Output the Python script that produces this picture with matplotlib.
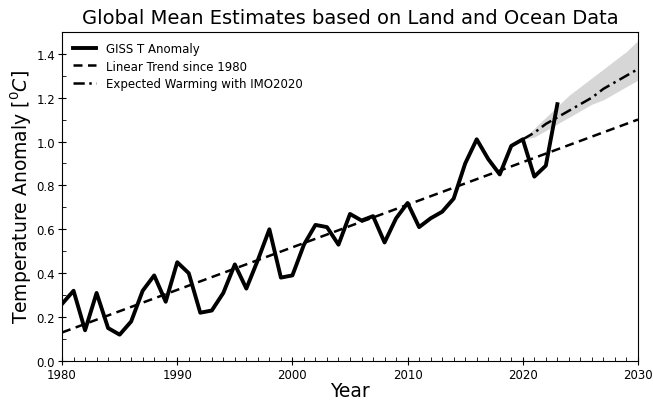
import matplotlib.pyplot as plt
from matplotlib.ticker import MultipleLocator

# GISS annual anomalies
years = list(range(1980, 2024))
giss = [0.26, 0.32, 0.14, 0.31, 0.15, 0.12, 0.18, 0.32, 0.39, 0.27,
        0.45, 0.40, 0.22, 0.23, 0.31, 0.44, 0.33, 0.46, 0.60, 0.38,
        0.39, 0.53, 0.62, 0.61, 0.53, 0.67, 0.64, 0.66, 0.54, 0.65,
        0.72, 0.61, 0.65, 0.68, 0.74, 0.90, 1.01, 0.92, 0.85, 0.98,
        1.01, 0.84, 0.89, 1.17]

# linear trend end points
trend_years = [1980, 2030]
trend_vals = [0.13, 1.10]

# IMO2020 projection and spread
proj_years = list(range(2020, 2031))
proj_mid = [1.01, 1.04, 1.08, 1.11, 1.14, 1.17, 1.20, 1.24, 1.27, 1.30, 1.33]
proj_lo = [1.01, 1.02, 1.05, 1.08, 1.11, 1.14, 1.17, 1.19, 1.22, 1.25, 1.28]
proj_hi = [1.01, 1.06, 1.11, 1.16, 1.21, 1.25, 1.29, 1.33, 1.37, 1.41, 1.46]

fig = plt.figure(figsize=(6.53, 4.02), dpi=100)
ax = fig.add_axes([0.095, 0.0995, 0.882, 0.819])

ax.fill_between(proj_years, proj_lo, proj_hi, color="#d6d6d6", linewidth=0)
ax.plot(years, giss, color="black", linewidth=2.8, label="GISS T Anomaly")
ax.plot(trend_years, trend_vals, color="black", linestyle=(0, (3.6, 2.2)),
        linewidth=1.8, label="Linear Trend since 1980")
ax.plot(proj_years, proj_mid, color="black", linestyle=(0, (4.5, 1.8, 1, 1.8)),
        linewidth=1.8, label="Expected Warming with IMO2020")

ax.set_xlim(1980, 2030)
ax.set_ylim(0, 1.5)
ax.set_yticks([0.0, 0.2, 0.4, 0.6, 0.8, 1.0, 1.2, 1.4])
ax.xaxis.set_minor_locator(MultipleLocator(1))
ax.yaxis.set_minor_locator(MultipleLocator(0.1))
ax.tick_params(which="major", direction="inout", length=6, pad=2, labelsize=8.5)
ax.tick_params(which="minor", direction="in", length=3)

ax.set_title("Global Mean Estimates based on Land and Ocean Data", fontsize=14)
ax.set_xlabel("Year", fontsize=13.5, labelpad=0)
ax.set_ylabel(r"Temperature Anomaly [$^0C$]", fontsize=13.5, labelpad=2)
ax.legend(loc="upper left", frameon=False, fontsize=8.5, handlelength=2.0,
          labelspacing=0.35)

fig.savefig("out.png", dpi=100)
